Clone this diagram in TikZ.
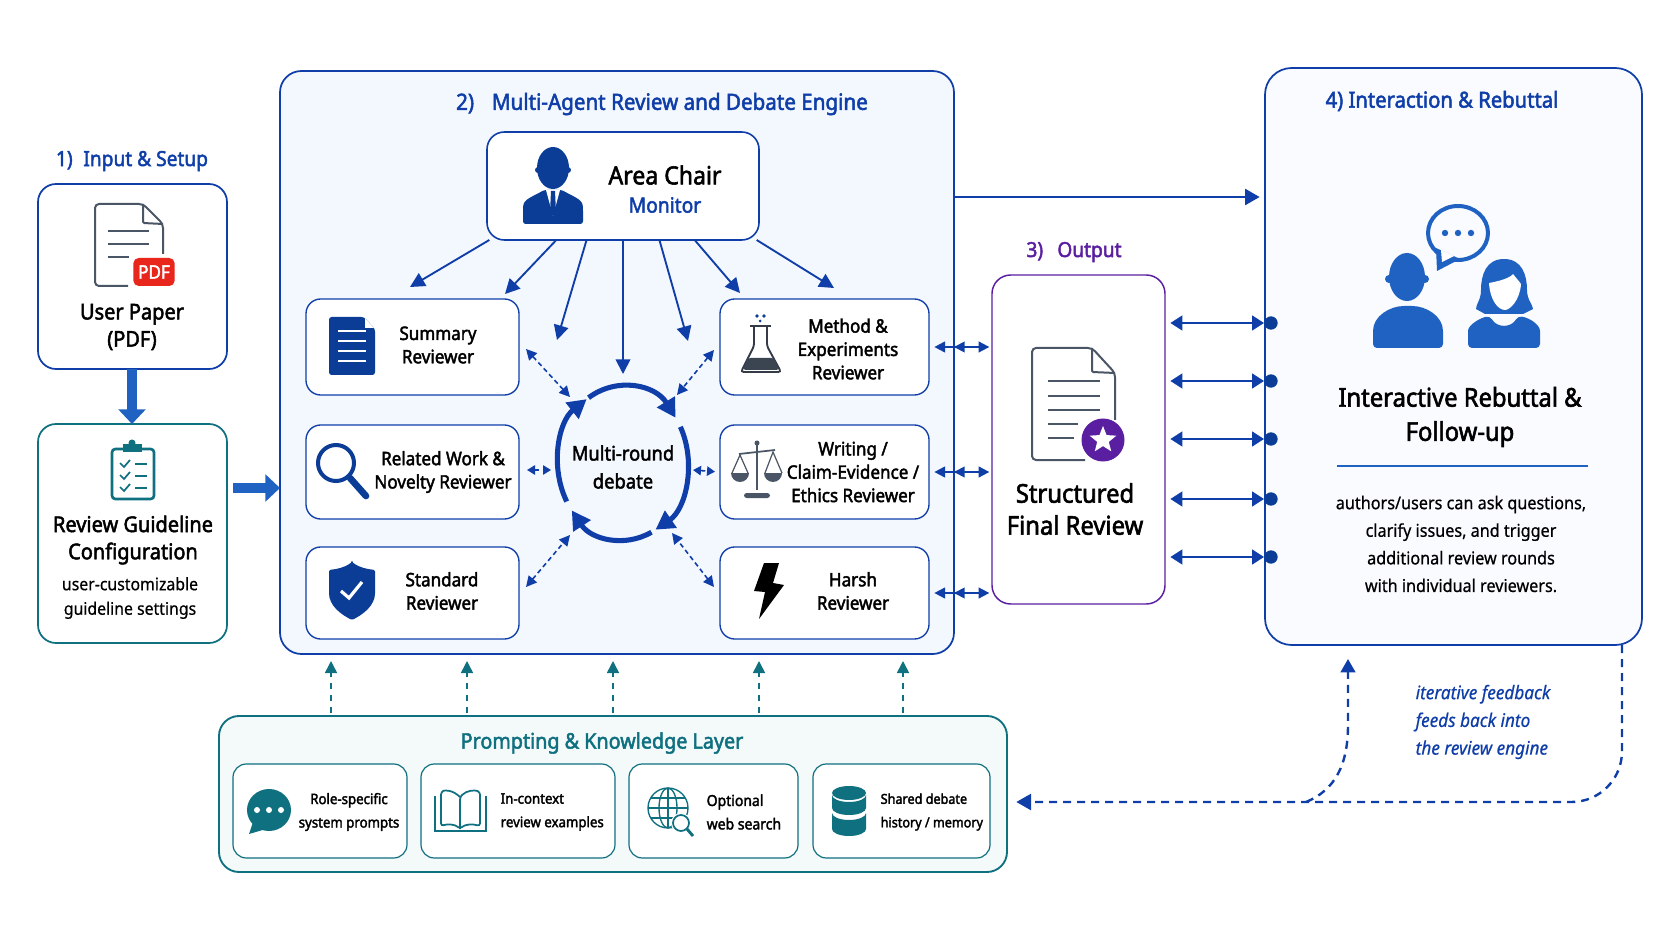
\documentclass[tikz,border=0pt]{standalone}
\usepackage{fontspec}
\usepackage{xcolor}
\usetikzlibrary{arrows.meta,fit,shapes.geometric}
\setmainfont[FakeStretch=0.92,FakeBold=0.6]{Noto Sans}
\newfontfamily\medfont[FakeStretch=0.92,FakeBold=2.2]{Noto Sans}
\definecolor{engblue}{HTML}{0F3EA8}
\definecolor{navy}{HTML}{0B3C96}
\definecolor{midblue}{HTML}{2062C2}
\definecolor{tealc}{HTML}{0F7080}
\definecolor{purp}{HTML}{5A1FA0}
\definecolor{slate}{HTML}{4A5565}
\definecolor{pdfred}{HTML}{E8261C}
\definecolor{engfill}{HTML}{F3F7FE}
\definecolor{intfill}{HTML}{FAFBFF}
\definecolor{layfill}{HTML}{F4FAFA}
\tikzset{
box/.style={rounded corners=13.5pt,line width=1.3pt,inner sep=0pt,outer sep=0pt,fill=white},
revbox/.style={box,rounded corners=11pt,line width=1pt,draw=engblue},
kbox/.style={box,rounded corners=10pt,line width=0.9pt,draw=tealc},
ttl/.style={font=\medfont\fontsize{15.6}{18}\selectfont,text=engblue},
lbl/.style={font=\medfont\fontsize{16.3}{20.4}\selectfont,align=center,text=black},
rev/.style={font=\medfont\fontsize{13.9}{17.5}\selectfont,align=center,text=black},
small/.style={font=\fontsize{12.9}{18.4}\selectfont,align=center,text=black},
klbl/.style={font=\medfont\fontsize{10.8}{17.6}\selectfont,align=left,text=black},
dbl/.style={dashed,dash pattern=on 3.5pt off 2.5pt,line width=1.2pt,draw=engblue,{Triangle[length=8pt,width=8pt]}-{Triangle[length=8pt,width=8pt]}},
solidbl/.style={line width=1.4pt,draw=engblue,{Triangle[length=8pt,width=8pt]}-{Triangle[length=8pt,width=8pt]}},
chairarr/.style={line width=1.4pt,draw=engblue,-{Triangle[length=11pt,width=11pt]}},
upteal/.style={dashed,dash pattern=on 5pt off 4pt,line width=1.2pt,draw=tealc,-{Triangle[length=9pt,width=9pt]}},
block/.style={line width=7pt,draw=midblue,-{Triangle[length=11pt,width=20pt]}},
loopseg/.style={line width=3.8pt,draw=engblue,-{Triangle[length=14pt,width=15pt]}},
fbk/.style={dashed,dash pattern=on 6pt off 4.5pt,line width=1.8pt,draw=engblue},
dotc/.style={circle,fill=navy,inner sep=0pt,minimum size=10pt},
linkarr/.style={solidbl,line width=1.8pt,{Triangle[length=9pt,width=11pt]}-{Triangle[length=9pt,width=11pt]},shorten <=4pt},
backtip/.style={line width=1.4pt,draw=engblue,-{Triangle[length=8pt,width=8pt]},shorten <=4pt}
}
\begin{document}
\begin{tikzpicture}[x=0.75pt,y=-0.75pt]
\useasboundingbox (0,0) rectangle (1672,941);

\node [ttl] at (132,161) {1)\; Input \& Setup};
\node [box,draw=engblue,fit={(38,184) (227,369)}] (paper) {};
\node [box,draw=tealc,fit={(38,424) (227,643)}] (guide) {};

\draw [slate,line width=1.5pt,rounded corners=3pt] (128,286) -- (95,286) -- (95,204) -- (143,204) -- (163,224) -- (163,254);
\draw [slate,line width=1.5pt,rounded corners=1pt] (143,204) -- (143,223) -- (163,224);
\draw [slate,line width=1.2pt] (108,231) -- (149,231) (108,244) -- (149,244) (108,257) -- (129,257);
\node [fill=pdfred,rounded corners=4pt,text=white,font=\medfont\fontsize{14}{16}\selectfont,minimum width=31pt,minimum height=21pt,inner sep=0pt] (pdfbadge) at (154,272) {PDF};
\node [lbl] at (132,327) {User Paper\\(PDF)};

\draw [tealc,line width=2pt,rounded corners=2.5pt] (112,449) rectangle (154,499);
\fill [tealc] (123,444) rectangle (142,452);
\fill [tealc] (132,443) circle [radius=3.5];
\draw [tealc,line width=1.3pt] (120,463) -- (124,467) -- (130,460) (120,475) -- (124,479) -- (130,472) (120,487) -- (124,491) -- (130,484);
\draw [tealc,line width=1.2pt] (135,464) -- (147,464) (135,476) -- (147,476) (135,488) -- (147,488);
\node [lbl] at (133,540) {Review Guideline\\Configuration};
\node [small] at (130,598) {user-customizable\\guideline settings};

\draw [block] (paper.south -| 132,369) -- (guide.north -| 132,424);

\node [box,fill=engfill,draw=engblue,rounded corners=16pt,fit={(280,71) (954,654)}] (engine) {};
\node [ttl,font=\medfont\fontsize{16.8}{18}\selectfont] at (662,104) {2)\;\; Multi-Agent Review and Debate Engine};
\coordinate (guideout) at (233,488);
\draw [block] (guideout) -- (guideout -| engine.west);

\node [revbox,line width=1.2pt,rounded corners=13pt,fit={(487,132) (759,240)}] (chair) {};
\node [revbox,fit={(306,299) (519,395)}] (summary) {};
\node [revbox,fit={(720,299) (929,395)}] (method) {};
\node [revbox,fit={(306,425) (519,519)}] (related) {};
\node [revbox,fit={(720,425) (929,519)}] (writing) {};
\node [revbox,fit={(306,547) (519,639)}] (standard) {};
\node [revbox,fit={(720,547) (929,639)}] (harsh) {};

\fill [navy] (553,168) ellipse [x radius=16,y radius=21];
\fill [navy] (538,170) circle [radius=3] (568,170) circle [radius=3];
\fill [navy,rounded corners=2pt] (523,224) -- (523,208) .. controls (524,199) and (534,196) .. (544,190) -- (562,190) .. controls (572,196) and (582,199) .. (583,208) -- (583,224) -- cycle;
\fill [white] (546,190) -- (553,216) -- (560,190) -- cycle;
\fill [navy] (551,191) -- (555,191) -- (556,212) -- (553,216) -- (550,212) -- cycle;
\node [font=\medfont\fontsize{18.8}{22}\selectfont] at (665,175) {Area Chair};
\node [font=\medfont\fontsize{15.7}{18}\selectfont,text=engblue] at (665,205) {Monitor};

\fill [navy,rounded corners=2pt] (329,317) -- (364,317) -- (375,329) -- (375,375) -- (329,375) -- cycle;
\fill [white] (365,318) -- (365,328) -- (374,328) -- cycle;
\draw [white,line width=1.3pt] (338,331) -- (366,331) (338,341) -- (366,341) (338,351) -- (366,351) (338,361) -- (366,361);
\node [rev] at (438,345) {Summary\\Reviewer};

\fill [navy] (757,316) circle [radius=1.8] (764,316) circle [radius=1.8] (760,321) circle [radius=1.5];
\draw [slate!70!black,line width=1.2pt] (750,326) -- (771,326);
\draw [slate!70!black,line width=1.4pt,rounded corners=2pt] (754,327) -- (754,346) -- (741,372) -- (781,372) -- (767,346) -- (767,327);
\fill [slate!80!black,rounded corners=2pt] (748,358) -- (774,358) -- (779,370) -- (743,370) -- cycle;
\node [rev] at (848,349) {Method \&\\Experiments\\Reviewer};

\draw [navy,line width=3pt] (336,463) circle [radius=18];
\draw [navy,line width=5pt,line cap=round] (350,478) -- (366,496);
\node [rev] at (443,472) {Related Work \&\\Novelty Reviewer};

\draw [slate,line width=1.8pt] (757,445) -- (757,490);
\fill [slate] (757,443) circle [radius=2.5];
\draw [slate,line width=1.3pt] (739,454) -- (775,450);
\fill [slate,rounded corners=2pt] (744,493) rectangle (770,498);
\draw [slate,line width=0.9pt] (732,473) -- (740,455) -- (748,473) (765,473) -- (773,452) -- (782,473);
\fill [slate] (731,473) -- (749,473) arc [start angle=0,end angle=180,radius=9] -- cycle;
\fill [slate] (764,473) -- (782,473) arc [start angle=0,end angle=180,radius=9] -- cycle;
\node [rev] at (853,472) {Writing /\\Claim-Evidence /\\Ethics Reviewer};

\fill [navy,rounded corners=1pt] (352,562) .. controls (360,568) and (367,569) .. (375,570) -- (375,592) .. controls (375,605) and (364,614) .. (352,620) .. controls (340,614) and (329,605) .. (329,592) -- (329,570) .. controls (337,569) and (344,568) .. (352,562) -- cycle;
\draw [white,line width=2.4pt] (341,591) -- (349,598) -- (362,582);
\node [rev] at (442,591) {Standard\\Reviewer};

\fill [black] (764,563) -- (779,563) -- (773,583) -- (784,585) -- (759,619) -- (765,592) -- (754,591) -- cycle;
\node [rev] at (853,591) {Harsh\\Reviewer};

\node [ellipse,minimum width=97pt,minimum height=115pt,inner sep=0pt,font=\medfont\fontsize{15}{21}\selectfont,align=center] (debate) at (623,467) {Multi-round\\debate};

\draw [loopseg] (623,463) ++(-122:65 and 77) arc [start angle=-122,end angle=-36,x radius=65,y radius=77];
\draw [loopseg] (623,463) ++(-28:65 and 77) arc [start angle=-28,end angle=60,x radius=65,y radius=77];
\draw [loopseg] (623,463) ++(64:65 and 77) arc [start angle=64,end angle=142,x radius=65,y radius=77];
\draw [loopseg] (623,463) ++(150:65 and 77) arc [start angle=150,end angle=236,x radius=65,y radius=77];

\coordinate (toa) at (410,287);
\coordinate (tob) at (505,294);
\coordinate (toc) at (557,340);
\coordinate (tod) at (623,374);
\coordinate (toe) at (688,341);
\coordinate (tof) at (740,293);
\coordinate (tog) at (834,288);
\draw [chairarr] (chair.-158) -- (toa);
\draw [chairarr] (chair.-141) -- (tob);
\draw [chairarr] (chair.-124) -- (toc);
\draw [chairarr] (chair.-90) -- (tod);
\draw [chairarr] (chair.-56) -- (toe);
\draw [chairarr] (chair.-37) -- (tof);
\draw [chairarr] (chair.-22) -- (tog);

\coordinate (sumout) at (526,349);
\coordinate (sumin) at (570,397);
\coordinate (metout) at (714,350);
\coordinate (metin) at (677,395);
\coordinate (stdout) at (526,587);
\coordinate (stdin) at (570,535);
\coordinate (harout) at (714,587);
\coordinate (harin) at (672,533);
\draw [dbl] (sumout) -- (sumin);
\draw [dbl] (metout) -- (metin);
\draw [dbl] (stdout) -- (stdin);
\draw [dbl] (harout) -- (harin);
\coordinate (relin) at (551,470);
\coordinate (wriin) at (693,470);
\draw [dbl,{Triangle[length=6pt,width=7pt]}-{Triangle[length=6pt,width=7pt]},shorten <=6pt] (related.east |- relin) -- (relin);
\draw [dbl,{Triangle[length=6pt,width=7pt]}-{Triangle[length=6pt,width=7pt]},shorten >=3pt] (wriin) -- (writing.east -| 719,470);

\node [ttl,text=purp] at (1074,252) {3)\;\, Output};
\node [box,draw=purp,line width=1.1pt,rounded corners=14pt,fit={(992,275) (1165,604)}] (output) {};
\draw [slate,line width=1.5pt,rounded corners=3pt] (1085,460) -- (1032,460) -- (1032,348) -- (1092,348) -- (1115,373) -- (1115,420);
\draw [slate,line width=1.5pt,rounded corners=1pt] (1092,348) -- (1092,372) -- (1115,373);
\draw [slate,line width=1.2pt] (1048,381) -- (1100,381) (1048,396) -- (1100,396) (1048,410) -- (1100,410) (1048,424) -- (1078,424) (1048,438) -- (1074,438);
\fill [purp] (1103,440) circle [radius=21.5];
\node [star,star points=5,star point ratio=2.3,fill=white,inner sep=0pt,minimum size=21pt] (badgestar) at (1103,440) {};
\node [lbl,font=\medfont\fontsize{19.4}{24}\selectfont] at (1075,509) {Structured\\Final Review};

\draw [solidbl,shorten <=4pt,shorten >=2pt] (method.east) -- (output.west |- method.east);
\draw [solidbl,shorten <=4pt,shorten >=2pt] (writing.east) -- (output.west |- writing.east);
\draw [solidbl,shorten <=4pt,shorten >=2pt] (harsh.east) -- (output.west |- harsh.east);
\draw [backtip] (output.west |- method.east) -- (engine.east |- method.east);
\draw [backtip] (output.west |- writing.east) -- (engine.east |- writing.east);
\draw [backtip] (output.west |- harsh.east) -- (engine.east |- harsh.east);

\node [box,fill=intfill,draw=engblue,rounded corners=20pt,fit={(1265,68) (1642,645)}] (interact) {};
\node [ttl,font=\medfont\fontsize{16.5}{18}\selectfont] at (1442,101) {4) Interaction \& Rebuttal};

\coordinate (chairout) at (955,197);
\draw [line width=2pt,draw=engblue,-{Triangle[length=11pt,width=12pt]}] (chairout) -- (interact.west |- chairout) [shorten >=4pt];

\node [dotc] (da) at (1271,323) {};
\node [dotc] (db) at (1271,381) {};
\node [dotc] (dc) at (1271,439) {};
\node [dotc] (dd) at (1271,499) {};
\node [dotc] (de) at (1271,557) {};
\draw [linkarr] (output.east |- da) -- (da.west);
\draw [linkarr] (output.east |- db) -- (db.west);
\draw [linkarr] (output.east |- dc) -- (dc.west);
\draw [linkarr] (output.east |- dd) -- (dd.west);
\draw [linkarr] (output.east |- de) -- (de.west);

\draw [midblue,line width=3pt] (1458,233) ellipse [x radius=30,y radius=27];
\fill [midblue] (1436,248) -- (1437,271) -- (1460,259) -- cycle;
\fill [white] (1441,250) -- (1442,262) -- (1454,256) -- cycle;
\fill [midblue] (1445,233) circle [radius=3.2] (1458,233) circle [radius=3.2] (1471,233) circle [radius=3.2];
\fill [midblue] (1407,277) ellipse [x radius=18,y radius=24];
\fill [midblue] (1389,279) circle [radius=4] (1425,279) circle [radius=4];
\fill [midblue,rounded corners=3pt] (1373,348) -- (1373,335) .. controls (1373,316) and (1390,306) .. (1408,306) .. controls (1426,306) and (1443,316) .. (1443,335) -- (1443,348) -- cycle;
\fill [midblue] (1504,259) .. controls (1522,259) and (1527,275) .. (1527,290) .. controls (1527,300) and (1533,305) .. (1533,309) -- (1523,314) -- (1485,314) -- (1476,309) .. controls (1476,304) and (1481,300) .. (1481,290) .. controls (1481,275) and (1486,259) .. (1504,259) -- cycle;
\fill [white] (1489,283) .. controls (1500,281) and (1510,278) .. (1513,274) .. controls (1516,278) and (1519,281) .. (1521,284) .. controls (1520,300) and (1510,310) .. (1505,310) .. controls (1498,310) and (1490,300) .. (1489,283) -- cycle;
\fill [midblue,rounded corners=3pt] (1468,348) -- (1468,335) .. controls (1468,325) and (1480,318) .. (1490,316) .. controls (1497,328) and (1511,328) .. (1518,316) .. controls (1530,318) and (1540,325) .. (1540,335) -- (1540,348) -- cycle;
\node [lbl,font=\medfont\fontsize{19.4}{25.6}\selectfont] (intertext) at (1460,417) {Interactive Rebuttal \&\\Follow-up};
\draw [midblue,line width=1.2pt] (1337,466) -- (1588,466);
\node [small,font=\fontsize{13.2}{20.7}\selectfont] at (1461,544) {authors/users can ask questions,\\clarify issues, and trigger\\additional review rounds\\with individual reviewers.};

\node [box,fill=layfill,draw=tealc,rounded corners=15pt,line width=1.4pt,fit={(219,716) (1007,872)}] (layer) {};
\node [ttl,text=tealc,font=\medfont\fontsize{16.1}{18}\selectfont] at (602,743) {Prompting \& Knowledge Layer};
\node [kbox,fit={(233,764) (407,858)}] (kprompt) {};
\node [kbox,fit={(421,764) (615,858)}] (kexample) {};
\node [kbox,fit={(629,764) (798,858)}] (ksearch) {};
\node [kbox,fit={(813,764) (990,858)}] (kmemory) {};

\coordinate (upa) at (331,661);
\coordinate (upb) at (467,661);
\coordinate (upc) at (613,661);
\coordinate (upd) at (759,661);
\coordinate (upe) at (903,661);
\draw [upteal,shorten <=2pt] (layer.north -| upa) -- (upa);
\draw [upteal,shorten <=2pt] (layer.north -| upb) -- (upb);
\draw [upteal,shorten <=2pt] (layer.north -| upc) -- (upc);
\draw [upteal,shorten <=2pt] (layer.north -| upd) -- (upd);
\draw [upteal,shorten <=2pt] (layer.north -| upe) -- (upe);

\fill [tealc] (269,810) ellipse [x radius=22,y radius=21];
\fill [tealc] (253,822) -- (249,834) -- (266,829) -- cycle;
\fill [white] (257,810) circle [radius=3] (269,810) circle [radius=3] (281,810) circle [radius=3];
\node [klbl,align=center] at (349,812) {Role-specific\\system prompts};

\draw [tealc,line width=1.3pt,rounded corners=2pt] (460,797) .. controls (453,790) and (445,790) .. (441,792) -- (441,826) .. controls (447,824) and (455,824) .. (460,829) .. controls (465,824) and (473,824) .. (480,826) -- (480,792) .. controls (475,790) and (467,790) .. (460,797) -- (460,829);
\draw [tealc,line width=1.3pt] (435,796) -- (435,831) -- (486,831) -- (486,796);
\node [klbl,anchor=west] at (496,812) {In-context\\review examples};

\draw [tealc,line width=1pt] (668,808) circle [radius=20];
\draw [tealc,line width=1pt] (668,808) ellipse [x radius=9,y radius=20];
\draw [tealc,line width=1pt] (668,788) -- (668,828) (648,808) -- (688,808) (651,798) -- (685,798) (651,818) -- (685,818);
\fill [white] (681,823) circle [radius=10];
\draw [tealc,line width=1.3pt] (681,823) circle [radius=8];
\draw [tealc,line width=2.2pt] (687,829) -- (693,836);
\node [klbl,anchor=west,font=\medfont\fontsize{11.4}{17.6}\selectfont] at (702,812) {Optional\\web search};

\fill [tealc] (832,793) arc [start angle=180,end angle=360,x radius=17,y radius=7] -- (866,793) arc [start angle=0,end angle=180,x radius=17,y radius=7] -- cycle;
\fill [tealc] (832,795) arc [start angle=180,end angle=0,x radius=17,y radius=7] -- (866,808) arc [start angle=0,end angle=180,x radius=17,y radius=7] -- cycle;
\fill [tealc] (832,813) arc [start angle=180,end angle=0,x radius=17,y radius=7] -- (866,829) arc [start angle=0,end angle=180,x radius=17,y radius=7] -- cycle;
\node [klbl,anchor=west,font=\medfont\fontsize{10.3}{17.6}\selectfont] at (876,812) {Shared debate\\history / memory};

\coordinate (fbstart) at (1622,645);
\coordinate (fbup) at (1348,659);
\coordinate (fbjoin) at (1306,802);
\draw [fbk,rounded corners=38pt,-{Triangle[length=11pt,width=12pt]}] (fbstart) -- (fbstart |- fbjoin) -- (layer.east |- fbjoin) [shorten >=7pt];
\draw [fbk,-{Triangle[length=10pt,width=11pt]}] (fbjoin) .. controls (1335,790) and (1348,765) .. (1348,725) -- (fbup);
\node [font=\itshape\fontsize{14}{20.8}\selectfont,align=left,text=engblue] at (1483,722) {iterative feedback\\feeds back into\\the review engine};
\end{tikzpicture}
\end{document}
